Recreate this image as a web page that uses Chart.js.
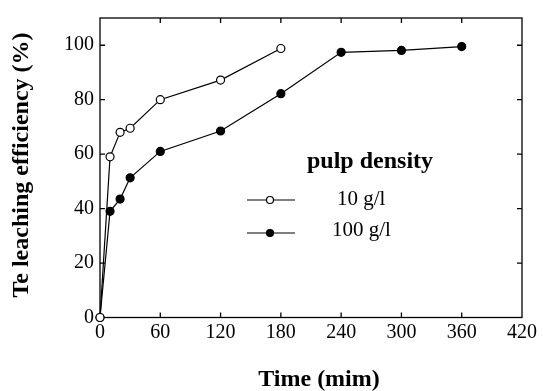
<!DOCTYPE html>
<html><head><meta charset="utf-8">
<script src="https://cdn.jsdelivr.net/npm/chart.js@4"></script>
<style>html,body{margin:0;padding:0;background:#fff}#wrap{width:543px;height:391px}</style>
</head><body><div id="wrap"><canvas id="c" width="543" height="391"></canvas></div>
<script>
const timeMin10 = [0, 10, 20, 30, 60, 120, 180];
const eff10 = [0, 59, 68, 69.5, 80, 87.2, 98.8];
const timeMin100 = [0, 10, 20, 30, 60, 120, 180, 240, 300, 360];
const eff100 = [0, 39, 43.5, 51.3, 61, 68.5, 82.2, 97.4, 98.1, 99.5];
const xTicks = [0, 60, 120, 180, 240, 300, 360, 420];
const yTicks = [0, 20, 40, 60, 80, 100];
const seriesLabels = ['10 g/l', '100 g/l'];
const legendTitle = 'pulp density';
const xTitle = 'Time (mim)';
const yTitle = 'Te leaching efficiency (%)';

const SERIF = '"Liberation Serif", "Times New Roman", serif';
const pts = (xs, ys) => xs.map((x, i) => ({x: x, y: ys[i]}));

const framePlugin = {
  id: 'frame',
  beforeDatasetsDraw(chart) {
    const {ctx, chartArea: a, scales: {x, y}} = chart;
    ctx.save();
    ctx.strokeStyle = '#000';
    ctx.lineWidth = 1.3;
    ctx.strokeRect(a.left, a.top, a.right - a.left, a.bottom - a.top);
    const L = 5;
    ctx.beginPath();
    xTicks.forEach(v => {
      const px = x.getPixelForValue(v);
      if (v === 0 || v === 420) return;
      ctx.moveTo(px, a.bottom); ctx.lineTo(px, a.bottom - L);
      ctx.moveTo(px, a.top); ctx.lineTo(px, a.top + L);
    });
    yTicks.forEach(v => {
      const py = y.getPixelForValue(v);
      if (v === 0) return;
      ctx.moveTo(a.left, py); ctx.lineTo(a.left + L, py);
      ctx.moveTo(a.right, py); ctx.lineTo(a.right - L, py);
    });
    ctx.stroke();
    ctx.restore();
  },
  afterDraw(chart) {
    const {ctx} = chart;
    ctx.save();
    ctx.fillStyle = '#000';
    ctx.strokeStyle = '#000';
    // axis titles
    ctx.font = 'bold 24px ' + SERIF;
    ctx.textAlign = 'center';
    ctx.textBaseline = 'middle';
    ctx.fillText(xTitle, 319, 380);
    ctx.save();
    ctx.translate(22, 165);
    ctx.rotate(-Math.PI / 2);
    ctx.fillText(yTitle, 0, 0);
    ctx.restore();
    // legend
    ctx.font = 'bold 24px ' + SERIF;
    ctx.textAlign = 'left';
    ctx.fillText(legendTitle, 307, 162);
    ctx.font = '21px ' + SERIF;
    const rows = [
      {y: 200, ty: 199, tx: 337, fill: '#fff'},
      {y: 233, ty: 230, tx: 332, fill: '#000'}
    ];
    rows.forEach((r, i) => {
      ctx.lineWidth = 1.2;
      ctx.beginPath();
      ctx.moveTo(247, r.y); ctx.lineTo(295, r.y);
      ctx.stroke();
      ctx.beginPath();
      ctx.arc(270, r.y, 3.5, 0, Math.PI * 2);
      ctx.fillStyle = r.fill;
      ctx.fill();
      ctx.stroke();
      ctx.fillStyle = '#000';
      ctx.fillText(seriesLabels[i], r.tx, r.ty);
    });
    ctx.restore();
  }
};

new Chart(document.getElementById('c'), {
  type: 'line',
  data: {
    datasets: [
      {
        label: seriesLabels[0],
        data: pts(timeMin10, eff10),
        borderColor: '#000', borderWidth: 1.2,
        pointRadius: 4, pointBackgroundColor: '#fff', pointBorderColor: '#000', pointBorderWidth: 1.2,
        tension: 0, clip: false
      },
      {
        label: seriesLabels[1],
        data: pts(timeMin100, eff100),
        borderColor: '#000', borderWidth: 1.2,
        pointRadius: 4, pointBackgroundColor: '#000', pointBorderColor: '#000', pointBorderWidth: 1.2,
        tension: 0, clip: false
      }
    ]
  },
  options: {
    responsive: false,
    animation: false,
    devicePixelRatio: 1,
    layout: {padding: {top: 12, right: 21, left: 0, bottom: 0}},
    plugins: {legend: {display: false}, tooltip: {enabled: false}},
    scales: {
      x: {
        type: 'linear', min: 0, max: 420,
        afterBuildTicks: s => { s.ticks = xTicks.map(v => ({value: v})); },
        afterFit: s => { s.height = 73.5; },
        grid: {display: false, drawTicks: false},
        border: {display: false},
        ticks: {color: '#000', font: {family: SERIF, size: 20}, padding: 3, maxRotation: 0, autoSkip: false}
      },
      y: {
        type: 'linear', min: 0, max: 110,
        afterBuildTicks: s => { s.ticks = yTicks.map(v => ({value: v})); },
        afterFit: s => { s.width = 100; },
        grid: {display: false, drawTicks: false},
        border: {display: false},
        ticks: {color: '#000', font: {family: SERIF, size: 20}, padding: 6, autoSkip: false}
      }
    }
  },
  plugins: [framePlugin]
});
</script>
</body></html>
